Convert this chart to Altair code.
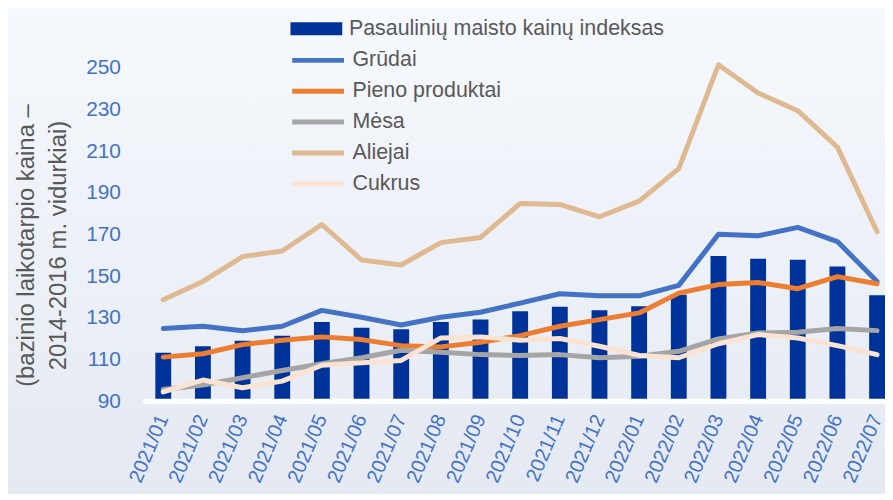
import altair as alt
import pandas as pd

months = ["2021/01", "2021/02", "2021/03", "2021/04", "2021/05", "2021/06", "2021/07",
          "2021/08", "2021/09", "2021/10", "2021/11", "2021/12", "2022/01", "2022/02",
          "2022/03", "2022/04", "2022/05", "2022/06", "2022/07"]

index_name = "Pasaulinių maisto kainų indeksas"
food_index = [113.3, 116.4, 119.1, 121.4, 128.1, 125.3, 124.6, 128.0, 129.2, 133.2,
              135.3, 133.7, 135.6, 141.1, 159.7, 158.4, 157.9, 154.7, 140.9]

series_names = ["Grūdai", "Pieno produktai", "Mėsa", "Aliejai", "Cukrus"]
grudai = [124.9, 126.0, 123.8, 126.0, 133.6, 130.3, 126.6, 130.3, 132.7, 137.1,
          141.6, 140.6, 140.6, 145.6, 170.1, 169.4, 173.4, 166.6, 147.5]
pienas = [111.2, 112.8, 117.2, 119.3, 120.9, 119.6, 116.7, 116.1, 118.3, 121.5,
          126.0, 129.2, 132.4, 141.9, 146.0, 147.0, 144.0, 149.8, 146.4]
mesa = [95.7, 97.8, 101.3, 104.8, 108.0, 110.9, 114.5, 113.5, 112.4, 112.0,
        112.4, 110.9, 111.6, 114.0, 119.9, 122.8, 123.1, 124.9, 123.9]
aliejai = [138.7, 147.5, 159.4, 162.1, 174.8, 157.8, 155.4, 166.1, 168.6, 184.9,
           184.4, 178.5, 186.0, 201.6, 251.4, 237.9, 229.4, 211.9, 171.3]
cukrus = [94.5, 100.2, 96.5, 99.7, 107.3, 108.5, 109.6, 120.4, 120.9, 119.3,
          120.1, 116.4, 112.0, 110.9, 117.6, 122.0, 120.4, 116.7, 112.4]

series_values = [grudai, pienas, mesa, aliejai, cukrus]
series_colors = ["#4472C4", "#ED7D31", "#A5A5A5", "#DFB991", "#FBE3D3"]
bar_color = "#003399"
y_ticks = [90, 110, 130, 150, 170, 190, 210, 230, 250]

W, H = 733, 377

bar_df = pd.DataFrame({"month": months, "value": food_index, "name": index_name})
line_df = pd.DataFrame([
    {"month": m, "value": v, "series": s, "order": i}
    for i, (s, vals) in enumerate(zip(series_names, series_values))
    for m, v in zip(months, vals)
])

x_enc = alt.X("month:N", sort=months,
              scale=alt.Scale(paddingInner=0.6, paddingOuter=0),
              axis=alt.Axis(title=None, domain=False, ticks=False, grid=False, zindex=2,
                            labelAngle=293, labelAlign="right", labelBaseline="middle",
                            labelPadding=14, labelColor="#4472C4", labelFontSize=20,
                            labelFont="Liberation Sans"))
y_scale = alt.Scale(domain=[90, 270], nice=False, zero=False)

bg = alt.Chart(alt.Data(values=[{"a": 1}])).mark_rect(
    color=alt.Gradient(gradient="linear", x1=0, y1=0, x2=0, y2=1,
                       stops=[alt.GradientStop(offset=0.038, color="#F6F9FD"),
                              alt.GradientStop(offset=0.81, color="#E4E9F2")])
).encode(x=alt.value(-200), x2=alt.value(1000), y=alt.value(-50), y2=alt.value(600))

bars = alt.Chart(bar_df).mark_bar().encode(
    x=x_enc,
    y=alt.Y("value:Q", scale=y_scale,
            axis=alt.Axis(values=y_ticks, domain=False, ticks=False, grid=False, zindex=2,
                          labelColor="#4472C4", labelFontSize=21, labelPadding=35,
                          labelFont="Liberation Sans",
                          title=["(bazinio laikotarpio kaina –", "2014-2016 m. vidurkiai)"],
                          titleColor="#595959", titleFontSize=24, titleFontWeight="normal",
                          titleFont="Liberation Sans", titleLineHeight=32,
                          titleAngle=270, titleAlign="center", titleBaseline="middle",
                          titleX=-129, titleY=220)),
    y2=alt.datum(90),
    fill=alt.Fill("name:N", scale=alt.Scale(domain=[index_name], range=[bar_color]),
                  legend=alt.Legend(title=None, orient="none", legendX=151, legendY=-8,
                                    symbolType="M-2.6,-0.65H2.6V0.65H-2.6Z", symbolSize=400,
                                    symbolStrokeWidth=0, labelOffset=22, padding=0,
                                    labelFontSize=21.5, labelColor="#595959",
                                    labelFont="Liberation Sans", labelLimit=0)),
)

baseline = alt.Chart(alt.Data(values=[{"a": 1}])).mark_rule(
    color="white", strokeWidth=5
).encode(x=alt.value(-12), x2=alt.value(W + 10), y=alt.value(H))

line_layers = []
for i, s in enumerate(series_names):
    line_layers.append(
        alt.Chart(line_df[line_df["series"] == s]).mark_line(
            strokeWidth=5, strokeCap="round", strokeJoin="round"
        ).encode(
            x=alt.X("month:N", sort=months),
            y=alt.Y("value:Q", scale=y_scale),
            stroke=alt.Stroke("series:N",
                              scale=alt.Scale(domain=series_names, range=series_colors),
                              legend=alt.Legend(title=None, orient="none", legendX=151, legendY=22,
                                                symbolType="M-2.6,0H2.6", symbolSize=400,
                                                symbolStrokeWidth=5, labelOffset=22, padding=0,
                                                rowPadding=8, labelFontSize=21.5,
                                                labelColor="#595959",
                                                labelFont="Liberation Sans", labelLimit=0)),
        )
    )

chart = alt.layer(bg, bars, baseline, *line_layers).properties(
    width=W, height=H,
    autosize=alt.AutoSizeParams(type="none"),
    padding={"left": 148, "top": 17, "right": 0, "bottom": 92},
    background="#EEF2F8",
).configure_view(stroke=None)

chart.save("out.html", embed_options={"renderer": "svg", "actions": False})
